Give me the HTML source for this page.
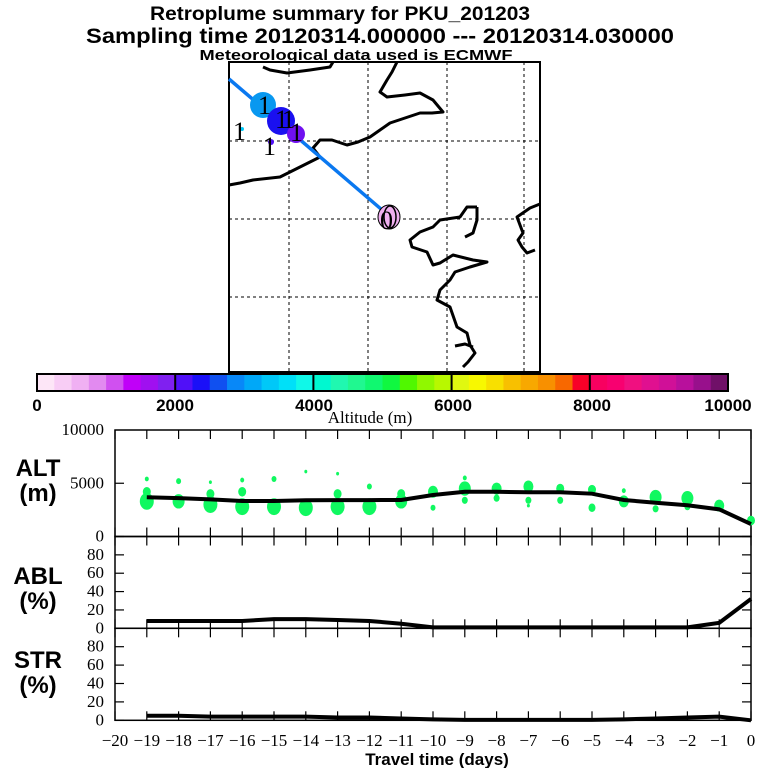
<!DOCTYPE html>
<html><head><meta charset="utf-8">
<style>
html,body{margin:0;padding:0;background:#fff;}
svg{display:block;}
.ser{font-family:"Liberation Serif",serif;}
.san{font-family:"Liberation Sans",sans-serif;font-weight:bold;}
</style></head>
<body>
<svg id="chart" width="768" height="768" viewBox="0 0 768 768" xmlns="http://www.w3.org/2000/svg">
  <text class="san" x="340" y="20" font-size="19" text-anchor="middle" textLength="380" lengthAdjust="spacingAndGlyphs">Retroplume summary for PKU_201203</text>
  <text class="san" x="380" y="43" font-size="21" text-anchor="middle" textLength="588" lengthAdjust="spacingAndGlyphs">Sampling time   20120314.000000 --- 20120314.030000</text>
  <text class="san" x="356" y="60" font-size="15" text-anchor="middle" textLength="313" lengthAdjust="spacingAndGlyphs">Meteorological data used is ECMWF</text>

  <g id="map">
    <rect x="229" y="62" width="311" height="310" fill="#fff" stroke="#000" stroke-width="2"/>
    <g stroke="#000" stroke-width="1" stroke-dasharray="3,3" fill="none">
      <line x1="289" y1="62" x2="289" y2="372"/><line x1="368" y1="62" x2="368" y2="372"/>
      <line x1="447" y1="62" x2="447" y2="372"/><line x1="524" y1="62" x2="524" y2="372"/>
      <line x1="229" y1="141" x2="540" y2="141"/><line x1="229" y1="219" x2="540" y2="219"/>
      <line x1="229" y1="297" x2="540" y2="297"/>
    </g>
    <g stroke="#000" stroke-width="3" fill="none" stroke-linejoin="round">
      <path d="M263,67 L270,70 L287,73 L310,70 L330,67 L333,62"/>
      <path d="M397,62 L392,72 L387,80 L380,92 L387,97 L405,95 L420,93 L433,100 L443,112 L432,113 L420,113 L405,118 L390,123 L380,130 L370,137 L358,142 L347,145 L332,140 L320,140 L313,148 L320,157 L300,167 L280,177 L253,180 L240,183 L229,185"/>
      <path d="M477,207 L467,207 L460,217 L440,220 L433,227 L420,232 L410,240 L412,247 L427,252 L433,265 L440,263 L453,255 L473,260 L487,262 L470,267 L455,272 L450,280 L440,290 L437,300 L450,307 L457,327 L467,333 L470,345 L475,353 L468,362 L463,367"/>
      <path d="M455,346 L465,344 L473,347"/>
      <path d="M465,237 L473,233 L477,220 L477,207"/>
      <path d="M540,204 L530,208 L517,217 L523,233 L518,240 L522,247 L527,253 L535,250"/>
    </g>
    <line x1="229" y1="79" x2="388" y2="215" stroke="#0a78f0" stroke-width="3.5"/>
    <circle cx="263" cy="105" r="13" fill="#0898f0"/>
    <circle cx="281" cy="121" r="14" fill="#1a10f0"/>
    <circle cx="296" cy="134" r="9" fill="#7010f0"/>
    <circle cx="271" cy="142" r="3" fill="#5010f8"/>
    <circle cx="242" cy="129" r="2" fill="#00c8f8"/>
    <ellipse cx="389" cy="217" rx="11" ry="12" fill="#f0b0f0" stroke="#000" stroke-width="1"/>
    <ellipse cx="390" cy="217" rx="6" ry="11" fill="none" stroke="#000" stroke-width="1.5"/>
    <g class="ser" font-size="26" fill="#000">
      <text x="233" y="140">1</text><text x="258" y="114">1</text><text x="275" y="128">1</text>
      <text x="282" y="128">1</text><text x="263" y="155">1</text><text x="290" y="141">1</text>
      <text x="380" y="229">0</text>
    </g>
  </g>

  <g id="colorbar"></g>
  <g class="san" font-size="17" fill="#000" text-anchor="middle">
    <text x="37" y="411">0</text><text x="175" y="411">2000</text><text x="314" y="411">4000</text>
    <text x="453" y="411">6000</text><text x="592" y="411">8000</text><text x="728" y="411">10000</text>
  </g>
  <text class="ser" x="370" y="423" font-size="17" text-anchor="middle">Altitude (m)</text>

  <g id="panels"></g>

  <g class="san" font-size="24" text-anchor="middle" fill="#000">
    <text x="38" y="476">ALT</text>
    <text x="38" y="501">(m)</text>
    <text x="38" y="584">ABL</text>
    <text x="38" y="609">(%)</text>
    <text x="38" y="668">STR</text>
    <text x="38" y="693">(%)</text>
  </g>
  <text class="san" x="437" y="765" font-size="17" text-anchor="middle">Travel time (days)</text>
</svg>
<script>
const cbColors=["#fde6f7","#f8cdf5","#f0b0f3","#e28af0","#d050f0","#c000f8","#a010f0","#8020f0",
"#5010f8","#1a10f8","#1050f0","#0888f8","#00a8f8","#00c8f8","#00e0f8","#10f8e8",
"#00f8d0","#20f8b0","#20f890","#10f870","#10f840","#50f800","#90f800","#b8f800",
"#e0f810","#f8f800","#f8e000","#f8c000","#f8a800","#f89000","#f86800","#f80028",
"#f80060","#f80070","#f01080","#e01090","#d01098","#b8109c","#98108c","#701068"];
const days=[-19,-18,-17,-16,-15,-14,-13,-12,-11,-10,-9,-8,-7,-6,-5,-4,-3,-2,-1,0];
const altLine=[3680,3600,3490,3330,3330,3400,3420,3420,3430,3900,4200,4200,4150,4150,4020,3430,3170,2930,2550,1170];
const ablLine=[8,8,8,8,10,10,9,8,5,1,1,1,1,1,1,1,1,1,6,32];
const strLine=[5,5,4,4,4,4,3,3,2,1,0.5,0.5,0.5,0.5,0.5,1,2,3,4,0];
const dotDay=[-19,-19,-19,-18,-18,-17,-17,-17,-16,-16,-16,-15,-15,-14,-14,-13,-13,-13,-12,-12,-11,-11,-10,-10,-9,-9,-9,-8,-8,-7,-7,-7,-6,-6,-5,-5,-4,-4,-3,-3,-2,-2,-1,0];
const dotAlt=[5400,4200,3300,5200,3300,5100,4000,3000,5300,4200,2800,5400,2800,6100,2700,5900,4000,2800,4700,2800,3300,4000,4200,2700,5500,4500,3400,4500,3600,4700,3400,2900,4500,3400,4400,2700,4300,3300,3700,2600,3600,2800,2900,1500];
const dotR=[2,4,7,2.5,6,1.5,4,7,2,4,7,2.5,7,1.5,7,1.5,4,7,2.5,7,6,4,5,2.5,2,6,3,5,3,5,3,1.5,4,3,4,3.5,2,5,6,3,6,3,5,4];
const xTicks=[-20,-19,-18,-17,-16,-15,-14,-13,-12,-11,-10,-9,-8,-7,-6,-5,-4,-3,-2,-1,0];
const pctTicks=[0,20,40,60,80];
const altTicks=[0,5000,10000];

const NS="http://www.w3.org/2000/svg";
function mk(tag,attrs,parent){const e=document.createElementNS(NS,tag);for(const k in attrs)e.setAttribute(k,attrs[k]);parent.appendChild(e);return e;}
const cb=document.getElementById('colorbar');
const cbX0=37,cbX1=728,cbY=374,cbH=17,cw=(cbX1-cbX0)/cbColors.length;
cbColors.forEach((c,i)=>{const r=mk('rect',{x:cbX0+i*cw,y:cbY,width:cw+0.5,height:cbH,fill:c},cb);

});
mk('rect',{x:cbX0,y:cbY,width:cbX1-cbX0,height:cbH,fill:'none',stroke:'#000','stroke-width':2},cb);
for(let k=1;k<5;k++){mk('line',{x1:cbX0+k*8*cw,x2:cbX0+k*8*cw,y1:cbY,y2:cbY+cbH,stroke:'#000','stroke-width':2},cb);}

const X0=115,X1=751;
function xs(d){return X1+d*(X1-X0)/20;}
const panels=document.getElementById('panels');
function panel(name,top,bot,max,ticks){
  const g=mk('g',{},panels);
  
  
  const ys=v=>bot-v/max*(bot-top);
  mk('rect',{x:X0,y:top,width:X1-X0,height:bot-top,fill:'none',stroke:'#000','stroke-width':1.5},g);
  ticks.forEach(t=>{
    const y=ys(t);
    if(t!==max){mk('line',{x1:X0,x2:X0+9,y1:y,y2:y,stroke:'#000','stroke-width':1.2},g);mk('line',{x1:X1-9,x2:X1,y1:y,y2:y,stroke:'#000','stroke-width':1.2},g);}
    const tx=mk('text',{x:X0-11,y:y+5,'font-size':17,'text-anchor':'end',class:'ser'},g);
    tx.textContent=t;
    
    
  });
  xTicks.forEach(d=>{const x=xs(d);
    mk('line',{x1:x,x2:x,y1:top,y2:top+9,stroke:'#000','stroke-width':1.2},g);
    mk('line',{x1:x,x2:x,y1:bot-9,y2:bot,stroke:'#000','stroke-width':1.2},g);});
  return {g,ys};
}
const alt=panel('alt-panel',430,536.5,10000,altTicks);
dotDay.forEach((d,i)=>{const c=mk('ellipse',{cx:xs(d),cy:alt.ys(dotAlt[i]),rx:dotR[i],ry:dotR[i]*1.2,fill:'#10f860'},alt.g);

});
function line(p,vals,name){const pts=days.map((d,i)=>xs(d)+','+p.ys(vals[i])).join(' ');
const l=mk('polyline',{points:pts,fill:'none',stroke:'#000','stroke-width':4},p.g);

}
line(alt,altLine,'altitude-line');
const abl=panel('abl-panel',536.5,628.3,100,pctTicks);
line(abl,ablLine,'abl-line');
const str=panel('str-panel',628.3,720.3,100,pctTicks);
line(str,strLine,'str-line');
xTicks.forEach(d=>{const t=mk('text',{x:xs(d),y:746,'font-size':17,'text-anchor':'middle',class:'ser'},panels);
t.textContent=(d<0?'\u2212'+(-d):'0');

});
</script>
</body></html>
